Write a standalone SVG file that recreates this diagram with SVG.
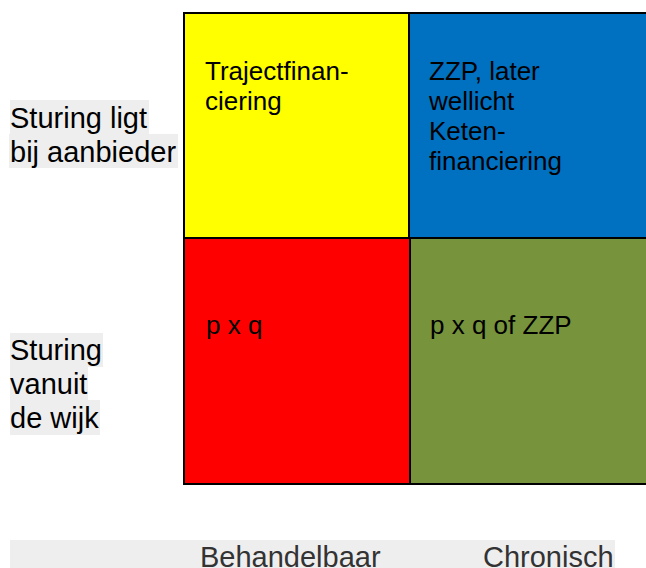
<svg xmlns="http://www.w3.org/2000/svg" width="646" height="568" viewBox="0 0 646 568">
<style>
.cell{stroke:#000;stroke-width:2}
.t{font-family:"Liberation Sans",Arial,sans-serif;font-size:26px;fill:#000}
.lab{font-family:"Liberation Sans",Arial,sans-serif;font-size:29px;fill:#000}
.ax{font-family:"Liberation Sans",Arial,sans-serif;font-size:29px;fill:#333}
.hl{fill:#eeeeee}
</style>
<rect width="646" height="568" fill="#fff"/>
<g id="cell-yellow">
<rect class="cell" x="184" y="13" width="225" height="225" fill="#ffff00"/>
<text class="t" x="205" y="80">Trajectfinan-</text>
<text class="t" x="205" y="110">ciering</text>
</g>
<g id="cell-blue">
<rect class="cell" x="409" y="13" width="240" height="225" fill="#0070c0"/>
<text class="t" x="429" y="80">ZZP, later</text>
<text class="t" x="429" y="110">wellicht</text>
<text class="t" x="429" y="140">Keten-</text>
<text class="t" x="429" y="170">financiering</text>
</g>
<g id="cell-red">
<rect class="cell" x="184" y="238" width="226" height="246" fill="#ff0000"/>
<text class="t" x="206" y="334">p x q</text>
</g>
<g id="cell-green">
<rect class="cell" x="410" y="238" width="240" height="246" fill="#77933c"/>
<text class="t" x="430" y="334">p x q of ZZP</text>
</g>
<g id="label-aanbieder">
<rect class="hl" x="10" y="100" width="139" height="34"/>
<rect class="hl" x="9" y="134" width="169" height="34"/>
<text class="lab" x="10" y="128">Sturing ligt</text>
<text class="lab" x="10" y="162">bij aanbieder</text>
</g>
<g id="label-wijk">
<rect class="hl" x="10" y="333" width="93" height="34"/>
<rect class="hl" x="10" y="367" width="78" height="33"/>
<rect class="hl" x="10" y="400" width="90" height="35"/>
<text class="lab" x="10" y="360">Sturing</text>
<text class="lab" x="10" y="394">vanuit</text>
<text class="lab" x="10" y="428">de wijk</text>
</g>
<g id="axis-bottom">
<rect class="hl" x="10" y="540" width="605" height="30"/>
<text class="ax" x="200" y="567">Behandelbaar</text>
<text class="ax" x="483" y="567">Chronisch</text>
</g>
<g id="connectors"></g>
</svg>
